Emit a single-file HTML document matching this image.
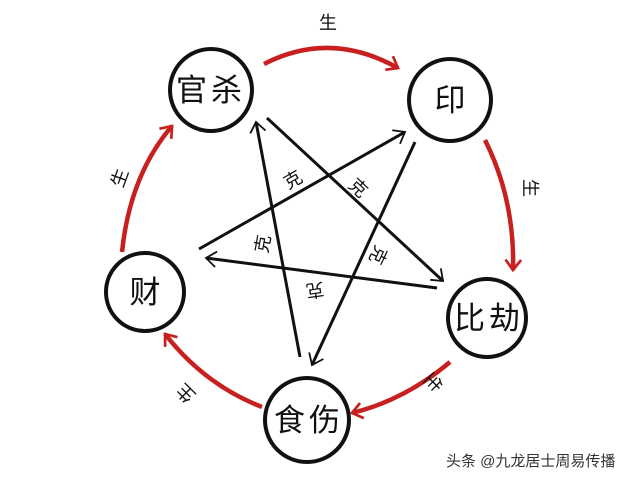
<!DOCTYPE html><html><head><meta charset="utf-8"><style>body{margin:0;background:#fff}svg{display:block}text{font-family:"Liberation Sans","Noto Sans CJK SC",sans-serif}</style></head><body>
<svg width="640" height="477" viewBox="0 0 640 477">
<defs>
<marker id="b" viewBox="0 0 10 10" refX="9" refY="5" markerWidth="6" markerHeight="6" orient="auto" markerUnits="userSpaceOnUse" style="overflow:visible"><path d="M-8,-8 L9,5 L-8,18" fill="none" stroke="#111" stroke-width="3"/></marker>
<marker id="r" viewBox="0 0 10 10" refX="9" refY="5" markerWidth="6" markerHeight="6" orient="auto" markerUnits="userSpaceOnUse" style="overflow:visible"><path d="M-8,-8 L9,5 L-8,18" fill="none" stroke="#c8201e" stroke-width="4.5"/></marker>
</defs>
<g stroke="#111" stroke-width="3" fill="none">
<line x1="300" y1="357" x2="256" y2="122" marker-end="url(#b)"/>
<line x1="267" y1="118" x2="443" y2="281" marker-end="url(#b)"/>
<line x1="415" y1="142" x2="312" y2="365" marker-end="url(#b)"/>
<line x1="199" y1="249" x2="405" y2="132" marker-end="url(#b)"/>
<line x1="437" y1="288" x2="206" y2="258" marker-end="url(#b)"/>
</g>
<g stroke="#c8201e" stroke-width="4.5" fill="none">
<path d="M264,64 Q330,30 398,68" marker-end="url(#r)"/>
<path d="M485,140 Q515,200 513,270" marker-end="url(#r)"/>
<path d="M450,362 Q405,400 352,413" marker-end="url(#r)"/>
<path d="M262,407 Q205,385 165,334" marker-end="url(#r)"/>
<path d="M122,252 Q130,175 172,126" marker-end="url(#r)"/>
</g>
<g stroke="#111" stroke-width="4" fill="#fff">
<circle cx="211" cy="90" r="41"/>
<circle cx="450" cy="100" r="41"/>
<circle cx="487" cy="318" r="39"/>
<circle cx="307" cy="420" r="42"/>
<circle cx="145" cy="292" r="39"/>
</g>
<g font-size="31" fill="#111" text-anchor="middle">
<text x="211" y="101" letter-spacing="4">官杀</text>
<text x="450" y="111">印</text>
<text x="489" y="329" letter-spacing="4">比劫</text>
<text x="309" y="431" letter-spacing="4">食伤</text>
<text x="145" y="303">财</text>
</g>
<g font-size="18" fill="#111" text-anchor="middle">
<text x="328" y="29">生</text>
<text transform="translate(530,188) rotate(90)" y="6">生</text>
<text transform="translate(433,382) rotate(135)" y="6">生</text>
<text transform="translate(186,393) rotate(-135)" y="6">生</text>
<text transform="translate(120,178) rotate(-70)" y="6">生</text>
<text transform="translate(293,180) rotate(-30)" y="6">克</text>
<text transform="translate(263,244) rotate(-80)" y="6">克</text>
<text transform="translate(358,188) rotate(43)" y="6">克</text>
<text transform="translate(378,255) rotate(115)" y="6">克</text>
<text transform="translate(315,290) rotate(172)" y="6">克</text>
</g>
<text x="446" y="466" font-size="15" fill="#333">头条 @九龙居士周易传播</text>
</svg></body></html>
